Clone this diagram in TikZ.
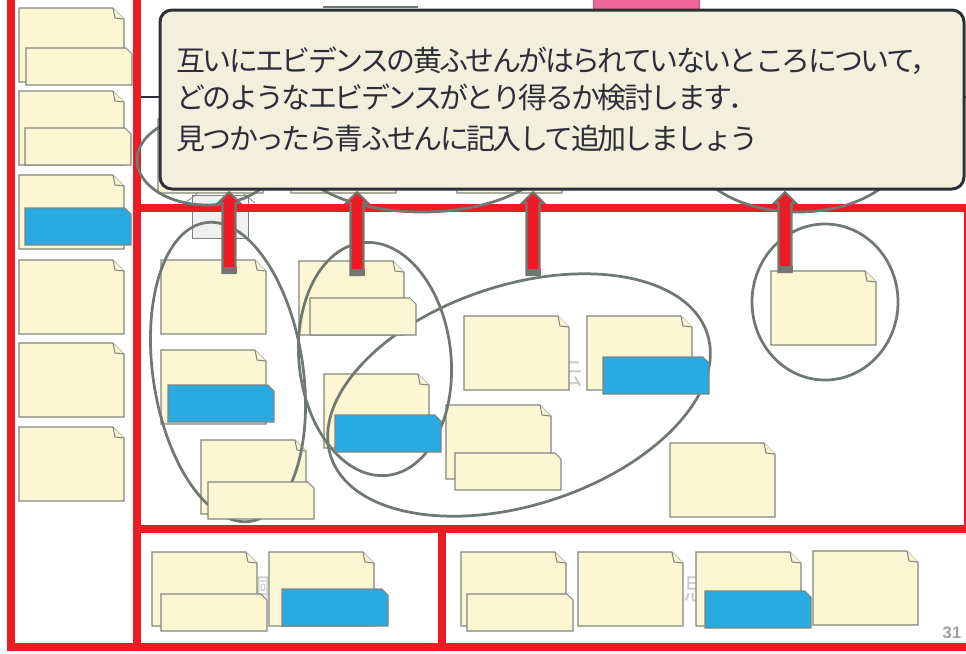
\documentclass[tikz,border=0pt]{standalone}
\usepackage{fontspec}
\setsansfont{Liberation Sans}
\newfontfamily\jpfont[LetterSpace=-9]{Noto Sans CJK JP}
\newfontfamily\jpfaint{Noto Sans CJK JP}
\definecolor{framered}{RGB}{237,28,36}
\definecolor{notefill}{RGB}{250,247,210}
\definecolor{noteline}{RGB}{128,134,128}
\definecolor{tagblue}{RGB}{41,171,226}
\definecolor{ringgray}{RGB}{111,121,113}
\definecolor{calloutfill}{RGB}{242,239,220}
\definecolor{calloutline}{RGB}{45,47,56}
\definecolor{markpink}{RGB}{240,102,152}
\definecolor{boxgray}{RGB}{240,240,240}
\definecolor{hintgray}{RGB}{205,205,205}
\tikzset{
	notebox/.style = {draw=noteline, line width=0.6pt, fill=notefill},
	frame/.style = {draw=framered, line width=0.16cm},
	ring/.style = {draw=ringgray, line width=0.055cm},
	hint/.style = {text=hintgray, inner sep=0pt, font=\jpfaint\fontsize{17}{18}\selectfont},
	calltext/.style = {anchor=west, inner sep=0pt, text=calloutline, font=\jpfont\fontsize{16.5}{18}\selectfont},
	note/.pic = {
		\draw[notebox] (0,0) -- (94,0) -- (105,11) -- (105,74) -- (0,74) -- cycle;
		\draw[notebox] (94,0) -- (96,10) -- (105,11);
	},
	pics/tag/.style = {code = {
		\draw[notebox, fill=#1] (0,0) -- (100,0) -- (106,6) -- (106,37) -- (0,37) -- cycle;
	}},
	pics/tag/.default = notefill
}
\def\pointer(#1:#2)%
	{ \draw[ringgray, line width=1.2pt, fill=framered] (#1-6.5,#2) -- (#1-6.5,203) -- (#1-11,203) -- (#1,192)
	      -- (#1+11,203) -- (#1+6.5,203) -- (#1+6.5,#2) -- cycle;
	  \fill[ringgray] (#1-7.5,#2-6) rectangle (#1+7.5,#2); }

\begin{document}
\begin{tikzpicture}[x=0.02cm, y=-0.02cm]
	\useasboundingbox (0,0) rectangle (966,653);
	% top part, mostly under the callout
	\draw[calloutline, line width=0.6pt] (141,97) -- (966,97);
	\draw[ringgray, line width=1.5pt] (323,7) -- (418,7);
	\draw[markpink!80!black, fill=markpink] (593,-2) rectangle (699,9);
	\foreach \x in {158,291,457}
		\pic at (\x,119) {note};
	\draw[gray, fill=boxgray] (192,195) rectangle (248,238);
	\draw[gray] (185,203) -- (198,193) (243,193) -- (255,203);
	% red frames
	\draw[frame] (11,-10) -- (11,647) -- (137,647) -- (137,-10);
	\draw[frame] (137,208) rectangle (968,529);
	\draw[frame] (137,529) rectangle (442,647);
	\draw[frame] (442,529) rectangle (980,647);
	\draw[ring] (207,160) ellipse (70 and 45);
	\draw[ring] (422,152) ellipse (128 and 60);
	\draw[ring] (798,150) ellipse (105 and 62);
	% faint labels behind the notes
	\node[hint] (hintA) at (567,373) {伝};
	\node[hint] (hintB) at (263,589) {興};
	\node[hint] (hintC) at (698,589) {思};
	% yellow notes
	\foreach \y in {8,91,175,260,343,427}
		\pic at (19,\y) {note};
	\foreach \x/\y in {161/260,161/350,201/440,299/261,324/374,464/316,587/316,446/405,670/443,771/271}
		\pic at (\x,\y) {note};
	\foreach \x/\y in {152/552,269/552,461/552,578/552,696/552,813/551}
		\pic at (\x,\y) {note};
	% groups
	\draw[ring, rotate around={8.6:(228,372)}] (228,372) ellipse (75 and 151);
	\draw[ring, rotate around={6:(375,359)}] (375,359) ellipse (76 and 117);
	\draw[ring, rotate around={18:(519,395)}] (519,395) ellipse (198 and 110);
	\draw[ring] (825,302) ellipse (73 and 78);
	% notes laid on top
	\foreach \x/\y in {26/48,25/128,208/482,310/298,455/453,161/594,467/594}
		\pic at (\x,\y) {tag};
	\foreach \x/\y in {25/208,168/385,335/415,603/357,282/589,705/591}
		\pic at (\x,\y) {tag=tagblue};
	% arrows up to the callout
	\pointer(229:273)
	\pointer(357:275)
	\pointer(533:275)
	\pointer(785:272)
	% callout
	\draw[calloutline, line width=0.06cm, fill=calloutfill, rounded corners=0.24cm] (160,10) rectangle (964,189);
	\node[calltext] (lineA) at (176,61) {互いにエビデンスの黄ふせんがはられていないところについて，};
	\node[calltext] (lineB) at (176,97) {どのようなエビデンスがとり得るか検討します．};
	\node[calltext] (lineC) at (176,138) {見つかったら青ふせんに記入して追加しましょう};
	\node[font=\sffamily\bfseries\fontsize{9.5}{10}\selectfont, text=gray!75, inner sep=0pt] (pagenum) at (952,633) {31};
\end{tikzpicture}
\end{document}
